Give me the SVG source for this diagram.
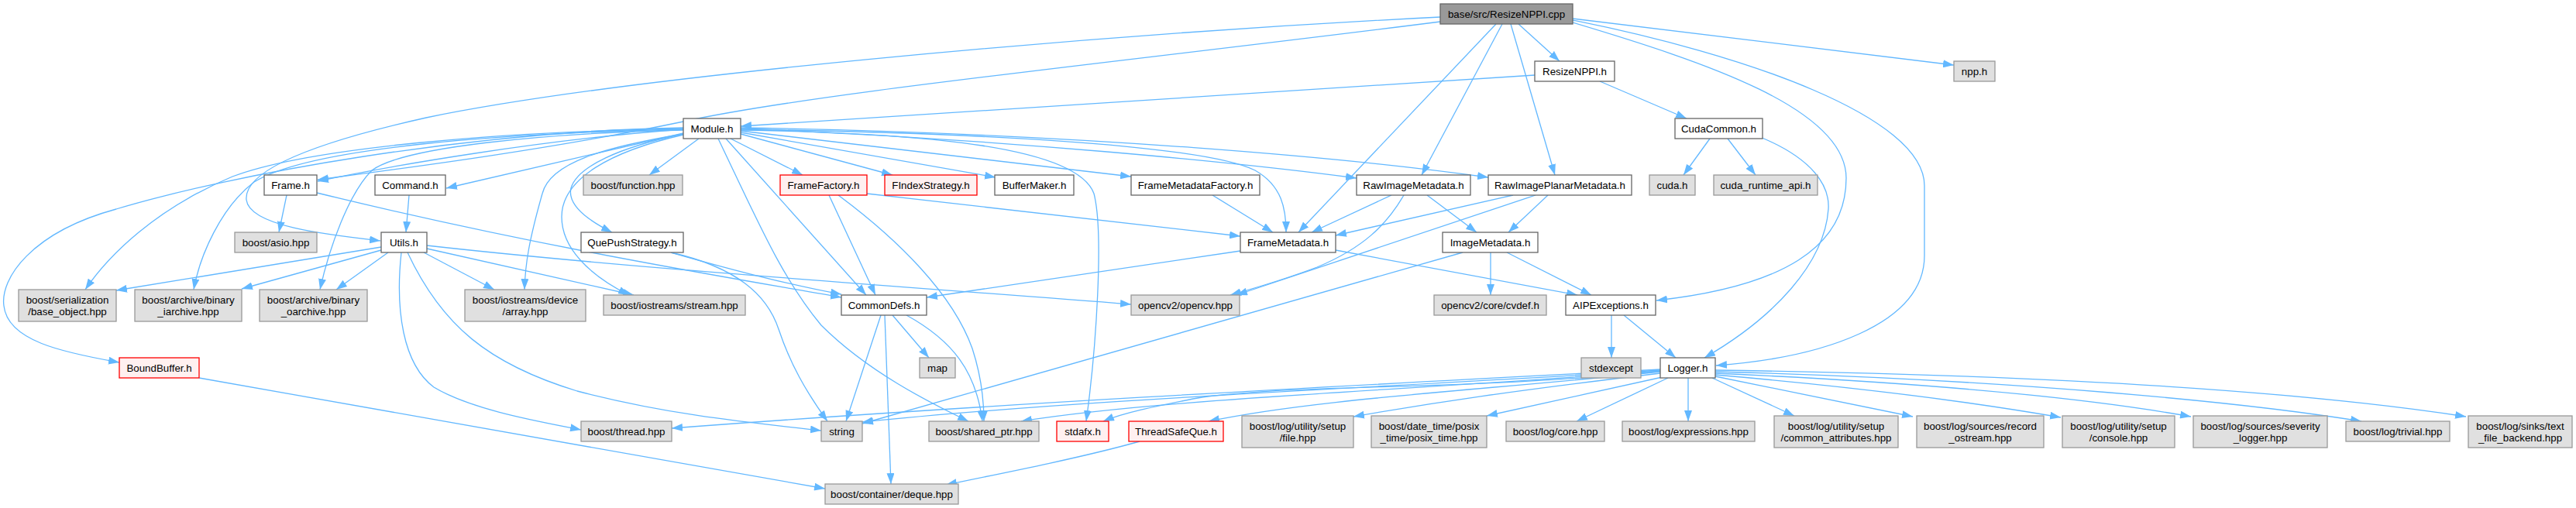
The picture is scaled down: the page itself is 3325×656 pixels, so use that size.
<svg xmlns="http://www.w3.org/2000/svg" width="3325" height="656" viewBox="0 0 3325 656">
<style>
.n{fill:#ffffff;stroke:#666666;stroke-width:1.3}
.x{fill:#e0e0e0;stroke:#999999;stroke-width:1.3}
.r{fill:#fff0f0;stroke:#ff0000;stroke-width:1.3}
.root{fill:#999999;stroke:#666666;stroke-width:1.3}
text{font-family:"Liberation Sans",Arial,Helvetica,sans-serif;font-size:13.33px;fill:#000000;text-anchor:middle}
#edges path{fill:none;stroke:#63b8ff;stroke-width:1.3;marker-end:url(#ah)}
</style>
<defs>
<marker id="ah" markerUnits="userSpaceOnUse" markerWidth="14" markerHeight="10" refX="14" refY="5" viewBox="0 0 14 10" orient="auto">
<path d="M0,0 L14,5 L0,10 z" fill="#63b8ff" stroke="none"/>
</marker>
</defs>
<rect width="3325" height="656" fill="#ffffff"/>
<g id="edges">
<path d="M1960,31 L2013,79"/>
<path d="M1931,31 L1676,300"/>
<path d="M1939,31 L1835,226"/>
<path d="M1950,31 L2007,226"/>
<path d="M2030,24 L2522,84"/>
<path d="M2030,29 C2200,80 2383,140 2383,230 C2383,320 2300,370 2138,388"/>
<path d="M2030,26 C2250,70 2484,150 2484,240 L2484,330 C2484,420 2350,462 2215,472"/>
<path d="M1859,22 C1400,45 800,100 550,152 C380,190 315,225 318,258 C322,292 420,303 491,311"/>
<path d="M1859,28 C1450,80 1050,120 882,157 C700,195 500,220 410,232"/>
<path d="M1981,97 L956,163"/>
<path d="M2065,105 L2177,153"/>
<path d="M2207,179 L2173,226"/>
<path d="M2230,179 L2266,226"/>
<path d="M2272,177 C2340,205 2362,240 2360,270 C2355,340 2290,410 2200,462"/>
<path d="M882,167 C700,180 500,215 410,234"/>
<path d="M882,172 L576,243"/>
<path d="M902,179 L838,226"/>
<path d="M943,179 L1036,226"/>
<path d="M956,173 L1152,226"/>
<path d="M956,171 L1285,229"/>
<path d="M956,169 L1460,228"/>
<path d="M956,166 C1300,180 1600,210 1751,230"/>
<path d="M956,165 C1400,172 1750,205 1921,229"/>
<path d="M956,167 C1300,172 1560,190 1620,220 C1655,240 1660,270 1660,300"/>
<path d="M956,168 C1200,172 1390,190 1412,250 C1425,300 1415,450 1402,544"/>
<path d="M882,173 C800,190 745,215 737,243 C732,265 760,285 790,300"/>
<path d="M937,179 L1118,381"/>
<path d="M882,173 C780,190 710,210 700,250 C683,310 678,340 677,374"/>
<path d="M882,174 C790,195 725,230 725,280 C725,320 760,355 812,381"/>
<path d="M927,179 C980,290 1010,360 1060,420 C1120,480 1200,520 1250,544"/>
<path d="M882,165 C600,170 300,225 150,270 C40,300 0,360 5,395 C10,440 80,455 154,468"/>
<path d="M882,166 C650,170 400,190 300,228 C200,270 140,330 110,374"/>
<path d="M882,167 C650,172 400,190 328,235 C285,268 258,330 250,374"/>
<path d="M882,168 C700,172 520,190 480,220 C450,250 425,320 413,374"/>
<path d="M370,252 L360,300"/>
<path d="M409,249 C700,320 950,360 1086,384"/>
<path d="M528,252 L524,300"/>
<path d="M492,319 L150,375"/>
<path d="M492,323 L312,373"/>
<path d="M501,326 L434,374"/>
<path d="M547,326 L638,374"/>
<path d="M551,321 L818,381"/>
<path d="M551,317 C800,345 1100,365 1460,393"/>
<path d="M518,326 C510,400 520,470 560,500 C610,530 700,545 750,555"/>
<path d="M526,326 C570,420 630,470 745,505 C860,535 960,545 1060,556"/>
<path d="M866,326 C950,350 1030,370 1086,380"/>
<path d="M866,326 C950,345 990,380 1005,425 C1020,470 1040,505 1068,544"/>
<path d="M1119,250 L1601,305"/>
<path d="M1070,252 L1130,381"/>
<path d="M1082,252 C1160,310 1230,380 1255,450 C1268,490 1270,520 1270,544"/>
<path d="M1565,252 L1643,300"/>
<path d="M1796,252 L1693,300"/>
<path d="M1842,252 L1906,300"/>
<path d="M1812,252 C1790,290 1760,320 1700,345 C1660,360 1620,372 1588,381"/>
<path d="M1953,252 L1724,304"/>
<path d="M1998,252 L1947,300"/>
<path d="M1982,252 L1596,381"/>
<path d="M1601,324 L1196,384"/>
<path d="M1724,323 L2036,381"/>
<path d="M1945,326 L2054,381"/>
<path d="M1924,326 L1924,381"/>
<path d="M1888,326 L1113,547"/>
<path d="M1137,407 L1092,544"/>
<path d="M1142,407 L1150,625"/>
<path d="M1152,407 L1199,462"/>
<path d="M1170,407 C1230,440 1260,480 1268,544"/>
<path d="M2080,407 L2080,462"/>
<path d="M2096,407 L2163,462"/>
<path d="M257,488 L1065,631"/>
<path d="M1471,570 C1400,590 1300,610 1221,626"/>
<path d="M2143,477 C1800,495 1300,520 867,553"/>
<path d="M2143,478 C1800,500 1400,515 1113,545"/>
<path d="M2143,479 C1800,505 1500,515 1318,544"/>
<path d="M2143,479 C1900,505 1650,495 1540,515 C1490,525 1450,533 1424,544"/>
<path d="M2143,480 C1900,505 1700,515 1560,544"/>
<path d="M2143,482 C1950,505 1850,520 1747,538"/>
<path d="M2150,486 L1919,537"/>
<path d="M2153,488 L2035,544"/>
<path d="M2179,488 L2179,544"/>
<path d="M2210,488 L2316,537"/>
<path d="M2214,486 L2469,538"/>
<path d="M2214,484 C2400,500 2550,520 2660,539"/>
<path d="M2214,482 C2500,495 2700,515 2828,538"/>
<path d="M2214,480 C2600,490 2900,520 3048,544"/>
<path d="M2214,478 C2700,485 3000,510 3183,538"/>
</g>
<g id="nodes">
<g id="node-cpp"><rect class="root" x="1859" y="5" width="171" height="26"/><text x="1944.5" y="23">base/src/ResizeNPPI.cpp</text></g>
<g id="node-resizenppi-h"><rect class="n" x="1981" y="79" width="103" height="26"/><text x="2032.5" y="97">ResizeNPPI.h</text></g>
<g id="node-npp-h"><rect class="x" x="2522" y="79" width="53" height="26"/><text x="2548.5" y="97">npp.h</text></g>
<g id="node-module-h"><rect class="n" x="882" y="153" width="74" height="26"/><text x="919" y="171">Module.h</text></g>
<g id="node-cudacommon-h"><rect class="n" x="2162" y="153" width="113" height="26"/><text x="2218.5" y="171">CudaCommon.h</text></g>
<g id="node-frame-h"><rect class="n" x="341" y="226" width="68" height="26"/><text x="375" y="244">Frame.h</text></g>
<g id="node-command-h"><rect class="n" x="484" y="226" width="91" height="26"/><text x="529.5" y="244">Command.h</text></g>
<g id="node-function"><rect class="x" x="753" y="226" width="128" height="26"/><text x="817" y="244">boost/function.hpp</text></g>
<g id="node-framefactory"><rect class="r" x="1007" y="226" width="112" height="26"/><text x="1063" y="244">FrameFactory.h</text></g>
<g id="node-findex"><rect class="r" x="1142" y="226" width="119" height="26"/><text x="1201.5" y="244">FIndexStrategy.h</text></g>
<g id="node-buffermaker"><rect class="n" x="1284" y="226" width="102" height="26"/><text x="1335" y="244">BufferMaker.h</text></g>
<g id="node-fmfactory"><rect class="n" x="1460" y="226" width="166" height="26"/><text x="1543" y="244">FrameMetadataFactory.h</text></g>
<g id="node-rawimg"><rect class="n" x="1751" y="226" width="147" height="26"/><text x="1824.5" y="244">RawImageMetadata.h</text></g>
<g id="node-rawplanar"><rect class="n" x="1921" y="226" width="185" height="26"/><text x="2013.5" y="244">RawImagePlanarMetadata.h</text></g>
<g id="node-cuda-h"><rect class="x" x="2129" y="226" width="59" height="26"/><text x="2158.5" y="244">cuda.h</text></g>
<g id="node-cudart"><rect class="x" x="2212" y="226" width="134" height="26"/><text x="2279" y="244">cuda_runtime_api.h</text></g>
<g id="node-asio"><rect class="x" x="303" y="300" width="106" height="26"/><text x="356" y="318">boost/asio.hpp</text></g>
<g id="node-utils"><rect class="n" x="492" y="300" width="59" height="26"/><text x="521.5" y="318">Utils.h</text></g>
<g id="node-quepush"><rect class="n" x="750" y="300" width="132" height="26"/><text x="816" y="318">QuePushStrategy.h</text></g>
<g id="node-framemeta"><rect class="n" x="1601" y="300" width="123" height="26"/><text x="1662.5" y="318">FrameMetadata.h</text></g>
<g id="node-imagemeta"><rect class="n" x="1862" y="300" width="123" height="26"/><text x="1923.5" y="318">ImageMetadata.h</text></g>
<g id="node-baseobj"><rect class="x" x="24" y="374" width="126" height="41"/><text x="87" y="392">boost/serialization</text><text x="87" y="407">/base_object.hpp</text></g>
<g id="node-iarchive"><rect class="x" x="174" y="374" width="138" height="41"/><text x="243" y="392">boost/archive/binary</text><text x="243" y="407">_iarchive.hpp</text></g>
<g id="node-oarchive"><rect class="x" x="335" y="374" width="139" height="41"/><text x="404.5" y="392">boost/archive/binary</text><text x="404.5" y="407">_oarchive.hpp</text></g>
<g id="node-array"><rect class="x" x="600" y="374" width="156" height="41"/><text x="678" y="392">boost/iostreams/device</text><text x="678" y="407">/array.hpp</text></g>
<g id="node-stream"><rect class="x" x="779" y="381" width="183" height="26"/><text x="870.5" y="399">boost/iostreams/stream.hpp</text></g>
<g id="node-commondefs"><rect class="n" x="1086" y="381" width="110" height="26"/><text x="1141" y="399">CommonDefs.h</text></g>
<g id="node-opencv"><rect class="x" x="1460" y="381" width="140" height="26"/><text x="1530" y="399">opencv2/opencv.hpp</text></g>
<g id="node-cvdef"><rect class="x" x="1851" y="381" width="145" height="26"/><text x="1923.5" y="399">opencv2/core/cvdef.h</text></g>
<g id="node-aipexc"><rect class="n" x="2021" y="381" width="116" height="26"/><text x="2079" y="399">AIPExceptions.h</text></g>
<g id="node-boundbuffer"><rect class="r" x="154" y="462" width="103" height="26"/><text x="205.5" y="480">BoundBuffer.h</text></g>
<g id="node-map"><rect class="x" x="1187" y="462" width="46" height="26"/><text x="1210" y="480">map</text></g>
<g id="node-stdexcept"><rect class="x" x="2041" y="462" width="77" height="26"/><text x="2079.5" y="480">stdexcept</text></g>
<g id="node-logger"><rect class="n" x="2143" y="462" width="71" height="26"/><text x="2178.5" y="480">Logger.h</text></g>
<g id="node-thread"><rect class="x" x="750" y="544" width="117" height="26"/><text x="808.5" y="562">boost/thread.hpp</text></g>
<g id="node-string"><rect class="x" x="1060" y="544" width="53" height="26"/><text x="1086.5" y="562">string</text></g>
<g id="node-sharedptr"><rect class="x" x="1199" y="544" width="142" height="26"/><text x="1270" y="562">boost/shared_ptr.hpp</text></g>
<g id="node-stdafx"><rect class="r" x="1364" y="544" width="67" height="26"/><text x="1397.5" y="562">stdafx.h</text></g>
<g id="node-tsq"><rect class="r" x="1457" y="544" width="122" height="26"/><text x="1518" y="562">ThreadSafeQue.h</text></g>
<g id="node-file"><rect class="x" x="1603" y="537" width="144" height="41"/><text x="1675" y="555">boost/log/utility/setup</text><text x="1675" y="570">/file.hpp</text></g>
<g id="node-posix"><rect class="x" x="1770" y="537" width="149" height="41"/><text x="1844.5" y="555">boost/date_time/posix</text><text x="1844.5" y="570">_time/posix_time.hpp</text></g>
<g id="node-core"><rect class="x" x="1944" y="544" width="127" height="26"/><text x="2007.5" y="562">boost/log/core.hpp</text></g>
<g id="node-expressions"><rect class="x" x="2094" y="544" width="171" height="26"/><text x="2179.5" y="562">boost/log/expressions.hpp</text></g>
<g id="node-common"><rect class="x" x="2290" y="537" width="160" height="41"/><text x="2370" y="555">boost/log/utility/setup</text><text x="2370" y="570">/common_attributes.hpp</text></g>
<g id="node-record"><rect class="x" x="2474" y="537" width="164" height="41"/><text x="2556" y="555">boost/log/sources/record</text><text x="2556" y="570">_ostream.hpp</text></g>
<g id="node-console"><rect class="x" x="2662" y="537" width="145" height="41"/><text x="2734.5" y="555">boost/log/utility/setup</text><text x="2734.5" y="570">/console.hpp</text></g>
<g id="node-severity"><rect class="x" x="2831" y="537" width="173" height="41"/><text x="2917.5" y="555">boost/log/sources/severity</text><text x="2917.5" y="570">_logger.hpp</text></g>
<g id="node-trivial"><rect class="x" x="3028" y="544" width="134" height="26"/><text x="3095" y="562">boost/log/trivial.hpp</text></g>
<g id="node-textfile"><rect class="x" x="3186" y="537" width="134" height="41"/><text x="3253" y="555">boost/log/sinks/text</text><text x="3253" y="570">_file_backend.hpp</text></g>
<g id="node-deque"><rect class="x" x="1065" y="625" width="172" height="26"/><text x="1151" y="643">boost/container/deque.hpp</text></g>
</g>
</svg>
